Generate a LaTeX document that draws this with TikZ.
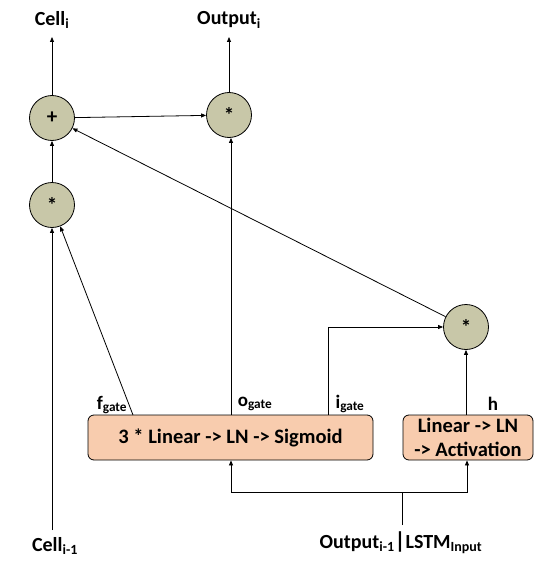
\documentclass[tikz,border=0pt]{standalone}
\usepackage{fontspec}
\setmainfont{Carlito}
\usetikzlibrary{arrows.meta}
\definecolor{opfill}{RGB}{200,199,168}
\definecolor{boxfill}{RGB}{248,204,174}
\begin{document}
\begin{tikzpicture}[x=1pt,y=-1pt,
  op/.style={circle,draw,fill=opfill,minimum size=45pt,inner sep=0pt,font=\bfseries\fontsize{21}{21}\selectfont,line width=0.8pt},
  layer/.style={draw,fill=boxfill,rounded corners=6pt,line width=0.8pt,inner sep=0pt,font=\bfseries\fontsize{20.5}{24}\selectfont,align=center},
  lbl/.style={font=\bfseries\fontsize{20}{20}\selectfont,inner sep=1pt},
  glbl/.style={font=\bfseries\fontsize{19}{19}\selectfont,inner sep=1pt},
  conn/.style={line width=0.8pt,-{Triangle[length=5pt,width=4pt]}},
  plain/.style={line width=0.8pt}]
\useasboundingbox (0,0) rectangle (554,583);
\node[op] (plus) at (52,118) {+};
\node[op] (outm) at (229,115) {*};
\node[op] (forg) at (52,205) {*};
\node[op] (inm) at (466,327) {*};
\node[layer,minimum width=285pt,minimum height=45pt] (gates) at (230.5,437.5) {3 * Linear -> LN -> Sigmoid};
\node[layer,minimum width=130pt,minimum height=45pt] (act) at (468,437.5) {Linear -> LN\\-> Activation};
\node[lbl] (celli) at (52,20) {Cell\textsubscript{i}};
\node[lbl] (outi) at (229,20) {Output\textsubscript{i}};
\node[lbl] (cellp) at (55,546) {Cell\textsubscript{i-1}};
\node[lbl] (inp) at (401,543) {Output\textsubscript{i-1}{\fontsize{23}{23}\selectfont|}LSTM\textsubscript{Input}};
\node[glbl] (fg) at (112,405) {f\textsubscript{gate}};
\node[glbl] (og) at (255,404) {o\textsubscript{gate}};
\node[glbl] (ig) at (350,404) {i\textsubscript{gate}};
\node[glbl] (hl) at (493,404) {h};
\coordinate (celltop) at (52,37);
\coordinate (outtop) at (229,37);
\coordinate (fstart) at (133,415);
\coordinate (ostart) at (231,415);
\coordinate (istart) at (328,415);
\coordinate (icorner) at (328,327);
\coordinate (cellbot) at (52,530);
\coordinate (inbot) at (402,525);
\coordinate (split) at (402,492);
\coordinate (splitl) at (231,492);
\coordinate (splitr) at (467,492);
\draw[conn] (plus) -- (celltop);
\draw[conn] (outm) -- (outtop);
\draw[conn] (plus) -- (outm);
\draw[conn] (forg) -- (plus);
\draw[conn] (cellbot) -- (forg);
\draw[conn] (fstart) -- (forg);
\draw[conn] (ostart) -- (ostart |- outm.south);
\draw[conn] (istart) -- (icorner) -- (inm);
\draw[conn] (act.north -| inm) -- (inm);
\draw[conn] (inm) -- (plus);
\draw[plain] (inbot) -- (split);
\draw[conn] (split) -- (splitl) -- (splitl |- gates.south);
\draw[conn] (split) -- (splitr) -- (splitr |- act.south);
\end{tikzpicture}
\end{document}
